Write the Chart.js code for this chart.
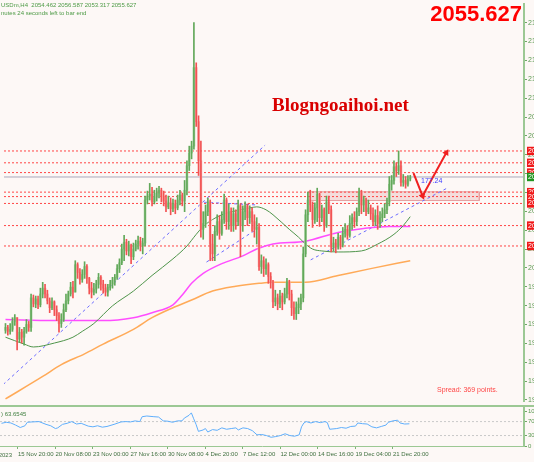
<!DOCTYPE html>
<html lang="en">
  <head>
    <meta charset="UTF-8" />
    <meta name="viewport" content="width=device-width, initial-scale=1.0" />
    <title>XAUUSDm H4</title>
    <script src="https://cdn.jsdelivr.net/npm/chart.js@4.4.1/dist/chart.umd.min.js"></script>
    <style>
      body {
        margin: 0;
        width: 534px;
        height: 462px;
        overflow: hidden;
        position: relative;
        background-color: #fdf8f6;
        font-family: "Liberation Sans", Arial, sans-serif;
      }
      .panel { position: absolute; left: 0; width: 534px; }
      #pricePanel { top: 0; height: 405px; }
      #rsiPanel { top: 407px; height: 55px; }
      #separator {
        position: absolute; left: 0; top: 405px;
        width: 534px; height: 2px; background-color: #9cc894;
      }
      .label { position: absolute; white-space: nowrap; line-height: 1; }
      #symbolInfo { left: 1px; top: 2px; font-size: 6px; color: #4d9a45; }
      #timerInfo { left: 1px; top: 10px; font-size: 6px; color: #4d9a45; }
      #bigPrice { right: 12px; top: 3px; font-size: 22px; font-weight: bold; color: #ff0000; }
      #watermark {
        left: 272px; top: 95px; font-family: "Liberation Serif", serif;
        font-size: 19px; font-weight: bold; color: #d90000;
      }
      #spread { left: 437px; top: 386px; font-size: 7px; color: #ff4646; }
      #angleText { left: 421px; top: 177px; font-size: 7px; color: #3c3cff; }
      #rsiInfo { left: 1px; top: 411px; font-size: 6px; color: #3f7f3f; }
      #firstDate { right: 522px; top: 452px; font-size: 6px; color: #3f6f3f; }
    </style>
  </head>
  <body>
    <div class="panel" id="pricePanel"><canvas id="priceChart"></canvas></div>
    <div id="separator"></div>
    <div class="panel" id="rsiPanel"><canvas id="rsiChart"></canvas></div>

    <div class="label" id="symbolInfo">USDm,H4&nbsp; 2054.462 2056.587 2053.317 2055.627</div>
    <div class="label" id="timerInfo">nutes 24 seconds left to bar end</div>
    <div class="label" id="bigPrice">2055.627</div>
    <div class="label" id="watermark">Blogngoaihoi.net</div>
    <div class="label" id="spread">Spread: 369 points.</div>
    <div class="label" id="angleText">177.24</div>
    <div class="label" id="rsiInfo">) 63.6545</div>
    <div class="label" id="firstDate">14 Nov 2023</div>

    <script>
      // ---- data (XAUUSDm, H4) ----
      const firstOpen = 1966.2;
      const closes = [
        1967.9, 1965.6, 1966.8, 1971.4, 1973.6, 1961.1, 1965.1, 1962.2, 1965.6, 1969.6,
        1967.9, 1985.1, 1981.6, 1984.5, 1981.1, 1987.4, 1990.8, 1987.4, 1983.4, 1979.4,
        1982.8, 1978.2, 1974.8, 1970.2, 1972.5, 1978.2, 1983.4, 1987.4, 1991.4, 1988.5,
        2004.5, 1999.9, 1995.9, 1998.8, 2003.4, 1996.5, 1990.8, 1988.5, 1990.2, 1993.1,
        1997.1, 1993.1, 1990.8, 1988.5, 1991.4, 1993.1, 1995.4, 1997.1, 2002.2, 2005.6,
        2013.6, 2017.6, 2012.5, 2015.9, 2009.1, 2013.6, 2016.5, 2018.2, 2015.4, 2017.1,
        2042.2, 2044.5, 2045.6, 2041.1, 2043.9, 2046.2, 2047.9, 2044.5, 2041.6, 2038.2,
        2040.5, 2037.1, 2039.9, 2037.6, 2042.2, 2045.1, 2041.6, 2047.9, 2062.2, 2069.6,
        2073.6, 2119.4, 2087.9, 2065.1, 2025.1, 2028.5, 2035.4, 2041.1, 2016.5, 2010.8,
        2023.9, 2029.6, 2022.8, 2030.8, 2042.2, 2029.6, 2035.4, 2027.3, 2034.2, 2029.6,
        2038.8, 2027.3, 2035.4, 2038.8, 2031.9, 2035.4, 2029.6, 2025.1, 2026.2, 2003.4,
        2006.8, 2002.2, 2004.5, 1997.6, 1994.2, 1982.8, 1985.1, 1981.6, 1986.2, 1982.8,
        1987.4, 1994.2, 1987.4, 1979.4, 1975.9, 1979.4, 1981.6, 1985.1, 2010.8, 2033.6,
        2042.2, 2039.3, 2030.8, 2037.6, 2045.6, 2031.9, 2036.5, 2027.3, 2041.1, 2036.5,
        2014.8, 2017.1, 2014.8, 2020.5, 2015.9, 2022.8, 2025.1, 2021.6, 2028.5, 2031.9,
        2029.6, 2035.4, 2046.8, 2039.3, 2042.2, 2035.4, 2037.6, 2034.2, 2029.6, 2033.1,
        2028.5, 2031.9, 2034.2, 2036.5, 2041.1, 2051.4, 2053.6, 2061.6, 2059.4, 2062.2,
        2052.5, 2053.6, 2051.4, 2054.462, 2055.627
      ];
      const highs = [
        1970.2, 1969.1, 1970.2, 1973.6, 1975.4, 1973.6, 1967.9, 1966.8, 1967.9, 1972.5,
        1971.4, 1987.4, 1986.8, 1986.2, 1986.2, 1990.8, 1994.2, 1993.1, 1989.6, 1985.1,
        1985.1, 1983.4, 1980.5, 1976.5, 1975.9, 1981.6, 1987.4, 1989.1, 1994.2, 1994.8,
        2006.8, 2005.6, 2002.2, 2001.6, 2006.2, 2004.5, 1997.1, 1994.2, 1993.6, 1995.4,
        1999.4, 1998.2, 1995.4, 1993.1, 1993.1, 1995.4, 1997.1, 1998.8, 2004.5, 2007.9,
        2016.5, 2021.6, 2019.3, 2018.2, 2016.5, 2017.1, 2018.8, 2021.1, 2020.5, 2019.9,
        2044.5, 2047.4, 2051.9, 2049.6, 2047.9, 2049.1, 2050.2, 2049.1, 2047.4, 2045.1,
        2044.5, 2043.4, 2042.8, 2042.2, 2045.1, 2047.9, 2046.2, 2053.6, 2065.1, 2073.6,
        2076.5, 2145.6, 2122.2, 2091.3, 2076.5, 2035.4, 2039.3, 2043.4, 2042.2, 2022.2,
        2027.3, 2033.6, 2033.1, 2035.4, 2045.6, 2043.4, 2039.9, 2037.6, 2037.6, 2036.5,
        2042.2, 2039.9, 2038.8, 2041.1, 2039.9, 2038.8, 2037.6, 2033.6, 2031.9, 2028.5,
        2010.2, 2009.1, 2007.9, 2005.6, 1999.9, 1995.4, 1989.6, 1987.4, 1989.6, 1987.9,
        1990.8, 1996.5, 1995.4, 1989.6, 1982.8, 1982.8, 1985.1, 1987.4, 2014.8, 2036.5,
        2046.8, 2047.9, 2041.1, 2040.5, 2049.1, 2046.2, 2039.3, 2037.6, 2044.5, 2044.5,
        2038.8, 2020.5, 2019.3, 2022.8, 2021.6, 2026.2, 2028.5, 2027.3, 2033.1, 2034.2,
        2035.4, 2037.6, 2049.1, 2047.9, 2044.5, 2043.4, 2042.2, 2039.3, 2037.6, 2036.5,
        2038.8, 2035.4, 2037.6, 2039.9, 2043.4, 2055.9, 2056.5, 2065.1, 2063.9, 2070.8,
        2065.1, 2057.1, 2055.9, 2056.5, 2056.587
      ];
      const lows = [
        1964.5, 1963.4, 1963.9, 1965.6, 1969.1, 1954.8, 1959.4, 1958.8, 1957.6, 1964.5,
        1965.6, 1965.6, 1979.9, 1979.4, 1978.8, 1979.9, 1985.1, 1985.1, 1981.6, 1976.5,
        1978.2, 1974.8, 1971.9, 1965.1, 1967.9, 1971.4, 1977.1, 1981.6, 1986.2, 1985.1,
        1988.5, 1996.5, 1993.1, 1994.2, 1996.5, 1993.6, 1987.4, 1985.1, 1986.8, 1987.9,
        1990.8, 1989.6, 1987.9, 1986.2, 1986.2, 1989.6, 1990.8, 1992.5, 1995.9, 1999.9,
        2004.5, 2006.8, 2010.2, 2009.6, 2005.1, 2007.4, 2012.5, 2013.6, 2012.5, 2010.8,
        2015.4, 2039.9, 2042.2, 2038.8, 2039.9, 2041.6, 2043.4, 2041.1, 2038.8, 2035.4,
        2037.1, 2033.6, 2035.4, 2034.2, 2036.5, 2039.3, 2038.8, 2035.4, 2045.1, 2059.4,
        2066.2, 2071.9, 2085.1, 2056.5, 2020.5, 2019.3, 2026.2, 2033.1, 2006.8, 2006.8,
        2006.8, 2021.6, 2019.3, 2021.6, 2028.5, 2025.1, 2025.1, 2023.9, 2023.9, 2025.1,
        2027.3, 2009.1, 2023.9, 2030.8, 2027.3, 2028.5, 2023.9, 2020.5, 2016.5, 2001.1,
        1999.4, 1997.6, 1998.8, 1993.6, 1990.8, 1979.4, 1980.5, 1978.2, 1979.4, 1978.2,
        1981.6, 1985.1, 1983.9, 1974.8, 1972.5, 1972.5, 1975.9, 1978.2, 1982.8, 2009.1,
        2029.6, 2035.4, 2026.2, 2028.5, 2029.6, 2026.8, 2029.6, 2023.9, 2026.2, 2034.2,
        2011.9, 2012.5, 2011.4, 2013.6, 2013.6, 2014.8, 2020.5, 2019.3, 2020.5, 2025.1,
        2026.2, 2027.3, 2033.1, 2034.2, 2035.4, 2033.1, 2034.2, 2030.8, 2027.3, 2027.3,
        2025.1, 2026.2, 2029.6, 2031.9, 2034.2, 2038.8, 2047.9, 2051.4, 2055.9, 2057.1,
        2050.2, 2050.2, 2049.1, 2050.2, 2053.317
      ];

      // moving averages, read at a few bars (bar index / price)
      const maGreenIdx = [0, 8, 12, 21, 29, 33, 38, 46, 55, 63, 72, 78, 82, 85, 89, 93, 99, 105, 108, 112, 115, 122, 126, 129, 132, 136, 143, 153, 160, 167, 171, 174];
      const maGreenVal = [1962.2, 1958.2, 1956.5, 1958.8, 1962.2, 1965.6, 1970.2, 1980.5, 1989.1, 1998.2, 2007.9, 2015.4, 2022.2, 2026.8, 2030.8, 2033.6, 2035.9, 2037.6, 2038.2, 2036.5, 2033.6, 2025.1, 2020.5, 2016.5, 2013.6, 2012.5, 2011.9, 2012.5, 2016.5, 2022.2, 2027.3, 2032.5];
      const maPinkIdx = [0, 21, 42, 55, 63, 72, 76, 80, 85, 93, 102, 108, 115, 129, 143, 154, 165, 174];
      const maPinkVal = [1972.5, 1971.9, 1971.9, 1973.6, 1976.5, 1981.1, 1986.8, 1993.6, 1999.4, 2005.1, 2009.6, 2013.6, 2016.5, 2018.2, 2023.3, 2025.6, 2026.8, 2026.8];
      const maOrangeIdx = [0, 16, 24, 34, 42, 55, 63, 72, 80, 89, 99, 109, 115, 129, 143, 157, 174];
      const maOrangeVal = [1926.2, 1939.3, 1946.2, 1952.5, 1958.2, 1966.8, 1973.6, 1979.4, 1983.9, 1989.1, 1991.9, 1993.6, 1994.2, 1994.2, 1998.2, 2002.2, 2006.8];

      // RSI(14), read at a few bars
      const rsiIdx = [0, 2, 4, 6, 8, 10, 11, 13, 16, 19, 21, 23, 24, 26, 28, 30, 32, 34, 37, 39, 41, 43, 45, 48, 51, 53, 55, 57, 59, 60, 62, 65, 67, 69, 71, 73, 75, 77, 78, 80, 81, 82, 83, 84, 86, 87, 88, 90, 92, 94, 96, 98, 100, 101, 103, 105, 107, 109, 111, 113, 115, 117, 119, 121, 123, 125, 127, 128, 129, 130, 132, 134, 136, 138, 139, 140, 143, 145, 147, 149, 151, 152, 154, 156, 158, 160, 162, 164, 165, 167, 169, 170, 172, 174];
      const rsiVal = [65, 68, 66, 60, 53, 58, 68, 69, 70, 62, 58, 50, 52, 62, 65, 70, 63, 65, 57, 55, 58, 54, 56, 62, 69, 70, 69, 72, 70, 84, 86, 84, 83, 72, 71, 68, 72, 72, 80, 88, 95, 78, 62, 42, 46, 50, 40, 47, 45, 52, 48, 50, 52, 46, 52, 50, 44, 32, 33, 30, 25, 27, 30, 35, 30, 28, 32, 55, 66, 70, 66, 70, 67, 70, 67, 48, 50, 53, 51, 56, 57, 66, 64, 63, 55, 52, 56, 60, 68, 72, 74, 66, 63, 63.65];
      const rsiLevels = [70, 30];
      const rsiTicks = [0, 30, 70, 100];

      // horizontal levels and the current price
      const levelPrices = [2070.8, 2063.9, 2058.2, 2046.8, 2044.2, 2040.2, 2027.3, 2015.4];
      const lastPrice = 2055.627;

      // trend lines: [startIdx, startPrice, endIdx, endPrice]
      const trendLines = [
        [-1, 1934.6, 111.6, 2074.2],
        [85.4, 2040.9, 108.2, 2039.3],
        [86.4, 2006.0, 108.9, 2026.0],
        [131.2, 2007.3, 190.5, 2049.6]
      ];
      // red arrow path
      const arrowIdx = [175.4, 179.3, 189.5];
      const arrowPrice = [2057.9, 2044.6, 2069.8];
      // support zone
      const zoneIdx = [129.9, 203.7];
      const zonePrice = [2047.0, 2041.9];

      // axis ticks
      const priceTicks = [1925.6, 1936.6, 1947.6, 1958.6, 1969.6, 1980.6, 1991.6, 2002.6, 2013.6, 2024.6, 2035.6, 2046.6, 2057.6, 2068.6, 2079.6, 2090.6, 2101.6, 2112.6, 2123.6, 2134.6, 2145.6];
      const dateTickIdx = [7, 23, 39, 55, 71, 87, 103, 119, 135, 151, 167];
      const dateTickText = ["15 Nov 20:00", "20 Nov 08:00", "23 Nov 00:00", "27 Nov 16:00", "30 Nov 08:00", "4 Dec 20:00", "7 Dec 12:00", "12 Dec 00:00", "14 Dec 16:00", "19 Dec 04:00", "21 Dec 20:00"];

      // ---- layout ----
      const X_MIN = -0.64, X_MAX = 222.9;
      const Y_MIN = 1925.0, Y_MAX = 2156.5;
      const RSI_MAX = 111.8;
      const FONT = "Liberation Sans";
      const AXIS_GREEN = "#9cc894";
      const TEXT_GREEN = "#5a9a52";

      Chart.defaults.font.family = FONT;
      Chart.defaults.animation = false;

      const opens = closes.map((c, i) => (i === 0 ? firstOpen : closes[i - 1]));
      const isUp = closes.map((c, i) => c >= opens[i]);
      const pts = (xs, ys) => xs.map((x, i) => ({ x: x, y: ys[i] }));
      const flat = (v) => [{ x: X_MIN, y: v }, { x: X_MAX, y: v }];

      const lineBase = { type: "line", pointRadius: 0, borderWidth: 1, fill: false };

      const priceDatasets = [
        {
          ...lineBase,
          data: pts(arrowIdx, arrowPrice),
          borderColor: "#f02020",
          borderWidth: 2,
          pointRadius: [0, 4, 4],
          pointStyle: "triangle",
          pointRotation: [0, 159, 29],
          pointBackgroundColor: "#f02020",
          pointBorderWidth: 0
        },
        {
          type: "bar",
          grouped: false,
          barThickness: 1,
          data: highs.map((h, i) => ({ x: i, y: [lows[i], h] })),
          backgroundColor: isUp.map((u) => (u ? "#62a85a" : "#f25252")),
          borderWidth: 0
        },
        {
          type: "bar",
          grouped: false,
          barThickness: 2,
          data: closes.map((c, i) => ({ x: i, y: [opens[i], c] })),
          backgroundColor: isUp.map((u) => (u ? "#acd6a5" : "#f8b0b0")),
          borderWidth: 0
        },
        { ...lineBase, data: pts(maGreenIdx, maGreenVal), borderColor: "#4e944a", cubicInterpolationMode: "monotone" },
        { ...lineBase, data: pts(maPinkIdx, maPinkVal), borderColor: "#ff4dff", borderWidth: 1.5, cubicInterpolationMode: "monotone" },
        { ...lineBase, data: pts(maOrangeIdx, maOrangeVal), borderColor: "#ffaa58", borderWidth: 1.5, cubicInterpolationMode: "monotone" }
      ];
      trendLines.forEach((t) => {
        priceDatasets.push({
          ...lineBase,
          data: [{ x: t[0], y: t[1] }, { x: t[2], y: t[3] }],
          borderColor: "#6d6dff",
          borderDash: [3, 3]
        });
      });
      priceDatasets.push({ ...lineBase, data: flat(lastPrice), borderColor: "#a9a9bb" });
      levelPrices.forEach((v) => {
        priceDatasets.push({ ...lineBase, data: flat(v), borderColor: "#ff4545", borderDash: [2, 2] });
      });
      // zone: border, then top edge + bottom edge filled between them
      priceDatasets.push({
        ...lineBase,
        data: [
          { x: zoneIdx[0], y: zonePrice[0] }, { x: zoneIdx[1], y: zonePrice[0] },
          { x: zoneIdx[1], y: zonePrice[1] }, { x: zoneIdx[0], y: zonePrice[1] },
          { x: zoneIdx[0], y: zonePrice[0] }
        ],
        borderColor: "#e6a0a0"
      });
      priceDatasets.push({ ...lineBase, data: [{ x: zoneIdx[0], y: zonePrice[0] }, { x: zoneIdx[1], y: zonePrice[0] }], borderWidth: 0 });
      priceDatasets.push({
        ...lineBase,
        data: [{ x: zoneIdx[0], y: zonePrice[1] }, { x: zoneIdx[1], y: zonePrice[1] }],
        borderWidth: 0,
        fill: "-1",
        backgroundColor: "rgba(225, 160, 160, 0.3)"
      });

      const nRegular = priceTicks.length;
      const nLevels = levelPrices.length;

      new Chart(document.getElementById("priceChart"), {
        type: "line",
        data: { datasets: priceDatasets },
        options: {
          responsive: true,
          maintainAspectRatio: false,
          events: [],
          layout: { padding: 0 },
          plugins: { legend: { display: false }, tooltip: { enabled: false } },
          scales: {
            x: { type: "linear", min: X_MIN, max: X_MAX, display: false, offset: false },
            y: {
              type: "linear",
              position: "right",
              min: Y_MIN,
              max: Y_MAX,
              afterBuildTicks(scale) {
                scale.ticks = priceTicks
                  .concat(levelPrices)
                  .concat([lastPrice])
                  .map((v) => ({ value: v }));
              },
              afterFit(scale) {
                scale.width = 10;
                scale.paddingTop = 0;
                scale.paddingBottom = 0;
              },
              border: { display: true, color: AXIS_GREEN, width: 2 },
              grid: {
                drawOnChartArea: false,
                tickLength: 3,
                tickColor: (ctx) => (ctx.index < nRegular ? "#6da865" : "rgba(0,0,0,0)")
              },
              ticks: {
                autoSkip: false,
                padding: 1,
                font: { size: 7 },
                color: (ctx) => (ctx.index < nRegular ? TEXT_GREEN : "#ffffff"),
                showLabelBackdrop: (ctx) => ctx.index >= nRegular,
                backdropColor: (ctx) =>
                  ctx.index >= nRegular + nLevels ? "#1f951f" : "#f01818",
                backdropPadding: { top: 0, bottom: 0, left: 1, right: 1 },
                callback: (v) => (v === lastPrice ? v.toFixed(3) : v.toFixed(2))
              }
            }
          }
        }
      });

      const rsiDatasets = [
        { ...lineBase, data: pts(rsiIdx, rsiVal), borderColor: "#5eaefc" }
      ];
      rsiLevels.forEach((v) => {
        rsiDatasets.push({ ...lineBase, data: flat(v), borderColor: "#c9c9c9", borderDash: [2, 2] });
      });

      new Chart(document.getElementById("rsiChart"), {
        type: "line",
        data: { datasets: rsiDatasets },
        options: {
          responsive: true,
          maintainAspectRatio: false,
          events: [],
          layout: { padding: 0 },
          plugins: { legend: { display: false }, tooltip: { enabled: false } },
          scales: {
            x: {
              type: "linear",
              min: X_MIN,
              max: X_MAX,
              offset: false,
              afterBuildTicks(scale) {
                scale.ticks = dateTickIdx.map((v) => ({ value: v }));
              },
              afterFit(scale) {
                scale.height = 16;
                scale.paddingLeft = 0;
                scale.paddingRight = 0;
              },
              border: { display: true, color: AXIS_GREEN, width: 1 },
              grid: { drawOnChartArea: false, tickLength: 3, color: "#7fb477" },
              ticks: {
                autoSkip: false,
                maxRotation: 0,
                minRotation: 0,
                align: "start",
                padding: 2,
                font: { size: 6 },
                color: "#3f6f3f",
                callback: (v, i) => dateTickText[i]
              }
            },
            y: {
              type: "linear",
              position: "right",
              min: 0,
              max: RSI_MAX,
              afterBuildTicks(scale) {
                scale.ticks = rsiTicks.map((v) => ({ value: v }));
              },
              afterFit(scale) {
                scale.width = 10;
                scale.paddingTop = 0;
                scale.paddingBottom = 0;
              },
              border: { display: true, color: AXIS_GREEN, width: 2 },
              grid: { drawOnChartArea: false, tickLength: 3, color: "#6da865" },
              ticks: {
                autoSkip: false,
                padding: 1,
                font: { size: 6 },
                color: TEXT_GREEN,
                callback: (v) => String(v)
              }
            }
          }
        }
      });
    </script>
  </body>
</html>
